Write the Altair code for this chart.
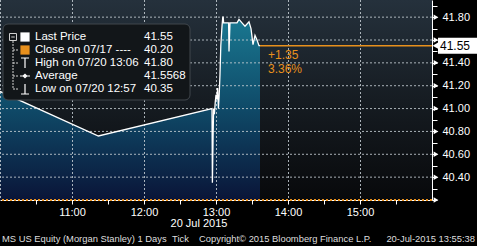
import altair as alt
import pandas as pd

# ---------------- data ----------------
times = ["10:00:00", "11:22:00", "12:56:40", "12:57:00", "12:57:30", "12:58:00", "12:58:40",
         "12:59:20", "13:00:00", "13:00:40", "13:01:20", "13:02:00", "13:02:40", "13:03:20",
         "13:04:00", "13:05:00", "13:05:40", "13:06:00", "13:06:20", "13:07:30", "13:10:30",
         "13:10:50", "13:11:40", "13:17:30", "13:19:10", "13:21:40", "13:24:10", "13:27:30",
         "13:29:10", "13:30:50", "13:32:30", "13:34:10", "13:35:50", "13:36:40"]
prices = [41.15, 40.76, 41.00, 40.35, 40.70, 41.00, 40.95,
          41.05, 41.12, 41.08, 41.18, 41.00, 41.12, 41.30,
          41.55, 41.72, 41.80, 41.80, 41.75, 41.75, 41.75,
          41.50, 41.75, 41.75, 41.78, 41.75, 41.72, 41.76,
          41.70, 41.56, 41.64, 41.60, 41.55, 41.55]

last_price = 41.55
prev_close = 40.20
change_text = "+1.35"
change_pct_text = "3.36%"

legend_labels = ["Last Price", "Close on 07/17 ----", "High on 07/20 13:06",
                 "Average", "Low on 07/20 12:57"]
legend_values = ["41.55", "40.20", "41.80", "41.5568", "40.35"]

hour_grid = [0, 60, 120, 180, 240, 300]          # minutes after 10:00
x_ticks = [30, 60, 90, 120, 150, 180, 210, 240, 270, 300, 330]
price_grid = [40.4, 40.6, 40.8, 41.0, 41.2, 41.4, 41.6, 41.8]
price_ticks = [round(40.2 + 0.1 * i, 1) for i in range(18)]
price_major = [40.2, 40.4, 40.6, 40.8, 41.0, 41.2, 41.4, 41.6, 41.8]

footer_parts = ["MS US Equity (Morgan Stanley) 1 Days", "Tick",
                "Copyright\u00a9 2015 Bloomberg Finance L.P.", "20-Jul-2015 13:55:38"]
date_label = "20 Jul 2015"


def to_min(s):
    h, m, sec = (int(v) for v in s.split(":"))
    return (h - 10) * 60 + m + sec / 60.0


df = pd.DataFrame({"t": [to_min(s) for s in times], "p": prices})
t_end = df["t"].iloc[-1]
one = pd.DataFrame({"a": [0]})

FONT = "Liberation Sans"
ORANGE = "#e8901c"
GRID = "#c4ccd2"
X_DOMAIN = [0, 360]
Y_DOMAIN = [40.2, 41.95]
xs = alt.Scale(domain=X_DOMAIN, nice=False, zero=False)
ys = alt.Scale(domain=Y_DOMAIN, nice=False, zero=False)

AX_X = alt.Axis(values=x_ticks, grid=False, domain=True, domainColor="white",
                tickColor="white", tickSize=4, labelColor="white",
                labelFont=FONT, labelFontSize=11, labelPadding=2,
                labelOverlap=False,
                labelExpr="datum.value % 60 == 0 ? (10 + datum.value / 60) + ':00' : ''",
                title=None)
# 40.20 has no label; 41.60 sits under the last-price box
AX_Y = alt.Axis(orient="right", values=price_ticks, grid=False, domain=True,
                domainColor="white", tickColor="white", tickSize=5,
                labelColor="white", labelFont=FONT, labelFontSize=11,
                labelPadding=5, labelBound=False, labelFlush=False,
                labelOverlap=False,
                labelExpr="(round(datum.value*10) % 2 == 0 && datum.value > 40.25 && abs(datum.value - 41.6) > 0.01) ? format(datum.value, '.2f') : ''",
                title=None)


def X(**kw):
    return alt.X(scale=xs, axis=AX_X, **kw)


def Y(**kw):
    return alt.Y(scale=ys, axis=AX_Y, **kw)


bg_grad = alt.Gradient(gradient="linear", x1=0, y1=0, x2=0, y2=1,
                       stops=[alt.GradientStop(color="#25313c", offset=0),
                              alt.GradientStop(color="#161c22", offset=0.5),
                              alt.GradientStop(color="#08090b", offset=1)])
area_grad = alt.Gradient(gradient="linear", x1=0, y1=0, x2=0, y2=1,
                         stops=[alt.GradientStop(color="#1a7891", offset=0),
                                alt.GradientStop(color="#0f4a68", offset=0.5),
                                alt.GradientStop(color="#0a1538", offset=1)])

# plot background
bg = alt.Chart(one).mark_rect(fill=bg_grad).encode(
    x=X(datum=X_DOMAIN[0]), x2=alt.X2(datum=X_DOMAIN[1]),
    y=Y(datum=Y_DOMAIN[1]), y2=alt.Y2(datum=Y_DOMAIN[0]))

area = alt.Chart(df).mark_area(color=area_grad, interpolate="linear").encode(
    x=X(field="t", type="quantitative"),
    y=Y(field="p", type="quantitative"),
    y2=alt.Y2(datum=prev_close))

vgrid = alt.Chart(pd.DataFrame({"t": hour_grid})).mark_rule(
    color=GRID, strokeDash=[2, 2], strokeWidth=1, opacity=0.85, xOffset=0.5).encode(
    x=X(field="t", type="quantitative"))
hgrid = alt.Chart(pd.DataFrame({"p": price_grid})).mark_rule(
    color=GRID, strokeDash=[2, 2], strokeWidth=1, opacity=0.85).encode(
    y=Y(field="p", type="quantitative"))

line = alt.Chart(df).mark_line(color="white", strokeWidth=1.3, interpolate="linear").encode(
    x=X(field="t", type="quantitative"),
    y=Y(field="p", type="quantitative"))

close_rule = alt.Chart(one).mark_rule(color=ORANGE, strokeDash=[2, 2], strokeWidth=2).encode(
    y=Y(datum=prev_close))

last_rule = alt.Chart(one).mark_rule(color=ORANGE, strokeWidth=1.5).encode(
    x=X(datum=t_end), x2=alt.X2(datum=X_DOMAIN[1]),
    y=Y(datum=last_price))

chg1 = alt.Chart(one).mark_text(text=change_text, color=ORANGE, font=FONT, fontSize=12,
                                align="left", baseline="middle", dx=8, dy=9).encode(
    x=X(datum=t_end), y=Y(datum=last_price))
chg2 = alt.Chart(one).mark_text(text=change_pct_text, color=ORANGE, font=FONT, fontSize=12,
                                align="left", baseline="middle", dx=8, dy=23).encode(
    x=X(datum=t_end), y=Y(datum=last_price))

tri = alt.Chart(pd.DataFrame({"p": price_major})).mark_point(
    shape="triangle-right", filled=True, color="white", size=30, opacity=1).encode(
    x=alt.value(436), y=Y(field="p", type="quantitative"))

box = alt.Chart(one).mark_rect(fill="white").encode(
    x=alt.value(438), x2=alt.value(477),
    y=Y(datum=last_price + 0.07), y2=alt.Y2(datum=last_price - 0.07))
box_tip = alt.Chart(one).mark_point(shape="triangle-left", filled=True, color="white",
                                    size=60, opacity=1).encode(
    x=alt.value(436), y=Y(datum=last_price))
box_text = alt.Chart(one).mark_text(text=f"{last_price:.2f}", color="black", font=FONT,
                                    fontSize=12, align="left", baseline="middle").encode(
    x=alt.value(440), y=Y(datum=last_price))

layers = [bg, area, vgrid, hgrid, line, close_rule, last_rule, chg1, chg2, tri,
          box, box_tip, box_text]

# legend panel
leg_box = alt.Chart(one).mark_rect(fill="#121619", stroke="#41474d", strokeWidth=1,
                                   cornerRadius=5).encode(
    x=alt.value(3), x2=alt.value(190), y=alt.value(24), y2=alt.value(100))
layers.append(leg_box)

row_y = [37, 50, 63, 76, 89]
tree = alt.Chart(one).mark_rule(color="#d0d0d0", strokeDash=[2, 1], strokeWidth=1).encode(
    x=alt.value(13), y=alt.value(41), y2=alt.value(89))
layers.append(tree)
tree_box = alt.Chart(one).mark_point(
    shape="M-1,-1L1,-1L1,1L-1,1ZM-0.5,0L0.5,0", filled=False, color="#d0d0d0",
    size=49, strokeWidth=1, opacity=1).encode(x=alt.value(13), y=alt.value(row_y[0]))
layers.append(tree_box)

icon_shapes = ["square", "square", "M-0.8,-1L0.8,-1M0,-1L0,1",
               "M-1,0L1,0M-0.35,0L0,-0.35L0.35,0L0,0.35Z", "M-0.8,1L0.8,1M0,-1L0,1"]
icon_colors = ["white", ORANGE, "white", "white", "white"]
for i, (lab, val) in enumerate(zip(legend_labels, legend_values)):
    yv = row_y[i]
    if i > 0:
        layers.append(alt.Chart(one).mark_rule(color="#d0d0d0", strokeDash=[2, 1]).encode(
            x=alt.value(13), x2=alt.value(19), y=alt.value(yv)))
    if i < 2:
        layers.append(alt.Chart(one).mark_point(shape="square", filled=True,
                                                color=icon_colors[i], size=85, opacity=1).encode(
            x=alt.value(25), y=alt.value(yv)))
    else:
        layers.append(alt.Chart(one).mark_point(shape=icon_shapes[i], filled=False,
                                                color=icon_colors[i], size=100, strokeWidth=1.2,
                                                opacity=1).encode(
            x=alt.value(25), y=alt.value(yv)))
    layers.append(alt.Chart(one).mark_text(text=lab, color="white", font=FONT, fontSize=11.5,
                                           align="left", baseline="middle").encode(
        x=alt.value(35), y=alt.value(yv)))
    layers.append(alt.Chart(one).mark_text(text=val, color="white", font=FONT, fontSize=11.5,
                                           align="left", baseline="middle").encode(
        x=alt.value(144), y=alt.value(yv)))

# date label and footer
layers.append(alt.Chart(one).mark_text(text=date_label, color="white", font=FONT, fontSize=11,
                                       align="center", baseline="middle").encode(
    x=alt.value(199), y=alt.value(224)))
footer_x = [2, 172, 199, 475]
footer_align = ["left", "left", "left", "right"]
for txt, fx, fa in zip(footer_parts, footer_x, footer_align):
    layers.append(alt.Chart(one).mark_text(text=txt, color="#dedede", font=FONT, fontSize=9.4,
                                           align=fa, baseline="middle").encode(
        x=alt.value(fx), y=alt.value(239)))

chart = alt.layer(*layers).properties(
    width=432, height=200,
    padding={"left": 0, "top": 0, "right": 45, "bottom": 46},
    autosize=alt.AutoSizeParams(type="none"),
    background="#000000",
).configure_view(stroke=None)

chart.save("out.html", embed_options={"renderer": "svg", "actions": False})
